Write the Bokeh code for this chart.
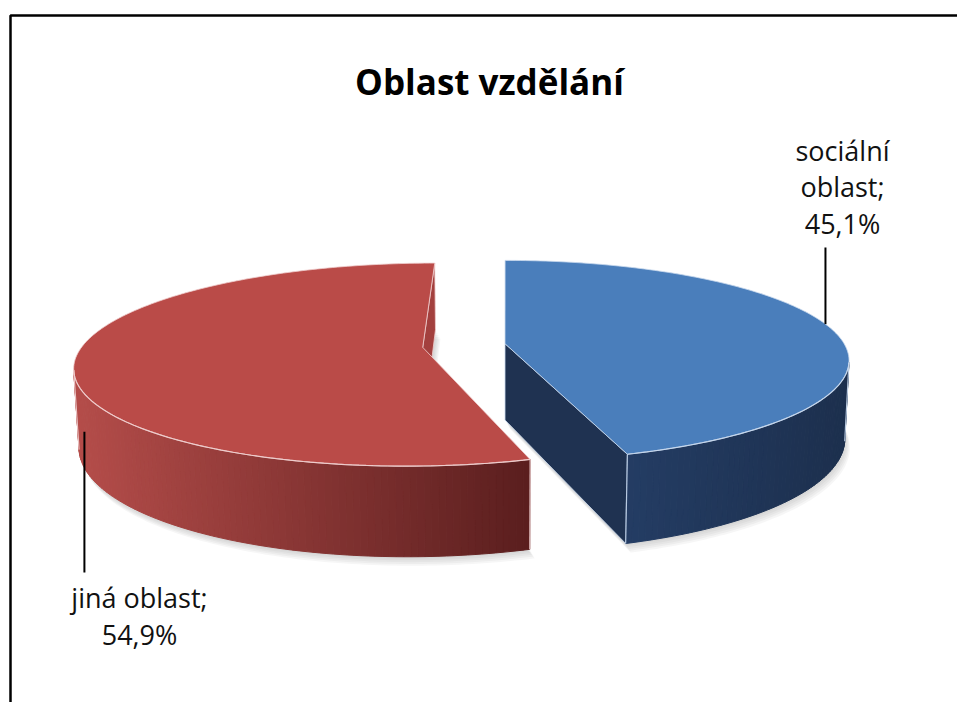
import numpy as np
from bokeh.plotting import figure
from bokeh.models import Range1d, ColumnDataSource
from bokeh.core.properties import value
from bokeh.embed import file_html
from bokeh.resources import INLINE

# ---------------- data ----------------
title_text = "Oblast vzdělání"
categories = ["sociální oblast", "jiná oblast"]
shares = [45.1, 54.9]

# ---------------- styles ----------------
top_colors = ["#4A7EBB", "#BA4B48"]
side_light = ["#284470", "#B54D4A"]
side_dark = ["#1C2F4D", "#5A1E1E"]
cut_colors = ["#1F3251", "#A3403E"]
edge_colors = ["#C9D9EE", "#F0CFCF"]
FONT = "Open Sans"

# ---------------- layout (page pixels) ----------------
W, H = 957, 702
CX, CY = 505.0, 345.0
F = 1922.0
K = 5.65
SIN_P = 0.288
COS_P = float(np.sqrt(1 - SIN_P ** 2))
T = 0.238
PIE_X = -0.122
EXPL = 0.122
CAM = np.array([0.0, K * SIN_P, -K * COS_P])

label_x = [842, 139]
label_baselines = [[150, 186, 223], [597, 634]]
label_wrap = [True, False]
leader_label_end = [247, 572]
leader_anchor = [(np.radians(78), 0.0), (np.radians(246), -0.5)]
TITLE_X, TITLE_Y = 489, 81
BORDER_X, BORDER_Y = 10, 15


def proj(x, y, z):
    x = np.asarray(x, float); y = np.asarray(y, float); z = np.asarray(z, float)
    depth = K - y * SIN_P + z * COS_P
    up = y * COS_P + z * SIN_P
    return CX + F * x / depth, CY - F * up / depth


def mix(c1, c2, t):
    a = np.array([int(c1[i:i + 2], 16) for i in (1, 3, 5)], float)
    b = np.array([int(c2[i:i + 2], 16) for i in (1, 3, 5)], float)
    c = a * (1 - t) + b * t
    return "#%02x%02x%02x" % tuple(int(round(v)) for v in c)


def visible(p, n):
    return float(np.dot(CAM - p, n)) > 0


p = figure(width=W, height=H, x_range=Range1d(0, W), y_range=Range1d(H, 0),
           output_backend="svg", toolbar_location=None,
           x_axis_location=None, y_axis_location=None,
           min_border=0, outline_line_color=None, background_fill_color="white")
p.xgrid.visible = False
p.ygrid.visible = False

fr = np.array(shares) / sum(shares)
bounds = np.concatenate([[0.0], np.cumsum(fr)]) * 2 * np.pi

shadow = dict(xs=[], ys=[])
patches = dict(xs=[], ys=[], fill=[], line=[], lw=[])
edges = dict(xs=[], ys=[], color=[])
centers = []

for i in range(len(shares)):
    a0, a1 = bounds[i], bounds[i + 1]
    am = 0.5 * (a0 + a1)
    ox = PIE_X + EXPL * np.sin(am)
    oz = EXPL * np.cos(am)
    centers.append((ox, oz))
    n = max(12, int(np.degrees(a1 - a0)))
    th = np.linspace(a0, a1, n)
    rx = ox + np.sin(th)
    rz = oz + np.cos(th)

    # soft shadow (bottom face, offset)
    bx, by = proj(np.r_[ox, rx], np.full(n + 1, -T), np.r_[oz, rz])
    for k in range(1, 6):
        shadow["xs"].append(list(bx + 1.0 * k))
        shadow["ys"].append(list(by + 1.8 * k))

    # cut faces
    for a, sign in ((a0, -1), (a1, 1)):
        nrm = np.array([sign * np.cos(a), 0.0, -sign * np.sin(a)])
        mid = np.array([ox + 0.5 * np.sin(a), -T / 2, oz + 0.5 * np.cos(a)])
        if visible(mid, nrm):
            qx, qy = proj([ox, ox + np.sin(a), ox + np.sin(a), ox],
                          [0, 0, -T, -T],
                          [oz, oz + np.cos(a), oz + np.cos(a), oz])
            patches["xs"].append(list(qx)); patches["ys"].append(list(qy))
            patches["fill"].append(cut_colors[i]); patches["line"].append(edge_colors[i])
            patches["lw"].append(0.8)

    # rim strips
    tx, ty = proj(rx, np.zeros(n), rz)
    xmin, xmax = tx.min(), tx.max()
    strips = []
    for j in range(n - 1):
        tm = 0.5 * (th[j] + th[j + 1])
        pm = np.array([ox + np.sin(tm), -T / 2, oz + np.cos(tm)])
        nm = np.array([np.sin(tm), 0.0, np.cos(tm)])
        if not visible(pm, nm):
            continue
        qx, qy = proj([rx[j], rx[j + 1], rx[j + 1], rx[j]], [0, 0, -T, -T],
                      [rz[j], rz[j + 1], rz[j + 1], rz[j]])
        t = (qx.mean() - xmin) / (xmax - xmin)
        col = mix(side_light[i], side_dark[i], min(max(t, 0), 1))
        patches["xs"].append(list(qx)); patches["ys"].append(list(qy))
        patches["fill"].append(col); patches["line"].append(col)
        patches["lw"].append(1.0)
        strips.append(j)
    if strips:
        js = list(range(strips[0], strips[-1] + 2))
        ex, ey = proj(rx[js], np.zeros(len(js)), rz[js])
        edges["xs"].append(list(ex)); edges["ys"].append(list(ey)); edges["color"].append(edge_colors[i])
        for jj in (js[0], js[-1]):
            vx, vy = proj([rx[jj], rx[jj]], [0, -T], [rz[jj], rz[jj]])
            edges["xs"].append(list(vx)); edges["ys"].append(list(vy)); edges["color"].append(edge_colors[i])

    # top face
    px_, py_ = proj(np.r_[ox, rx], np.zeros(n + 1), np.r_[oz, rz])
    patches["xs"].append(list(px_)); patches["ys"].append(list(py_))
    patches["fill"].append(top_colors[i]); patches["line"].append(edge_colors[i])
    patches["lw"].append(0.8)

p.patches("xs", "ys", source=ColumnDataSource(shadow), fill_color="#808080",
          fill_alpha=0.07, line_color=None)
p.patches("xs", "ys", source=ColumnDataSource(patches), fill_color="fill",
          line_color="line", line_width="lw")
p.multi_line("xs", "ys", source=ColumnDataSource(edges), line_color="color",
             line_width=1.2, line_alpha=0.9)

# leader lines and labels
lead = dict(xs=[], ys=[])
txt = dict(x=[], y=[], text=[])
for i, name in enumerate(categories):
    ox, oz = centers[i]
    ang, hf = leader_anchor[i]
    ax, ay = proj(ox + np.sin(ang), hf * T, oz + np.cos(ang))
    lead["xs"].append([float(ax), float(ax)])
    lead["ys"].append([float(ay), leader_label_end[i]])
    pct = ("%.1f" % shares[i]).replace(".", ",") + "%"
    first = name + ";"
    lines = first.split(" ") if label_wrap[i] else [first]
    lines = lines + [pct]
    for ln, yb in zip(lines, label_baselines[i]):
        txt["x"].append(label_x[i]); txt["y"].append(yb); txt["text"].append(ln)

p.multi_line("xs", "ys", source=ColumnDataSource(lead), line_color="black", line_width=2)
p.text("x", "y", text="text", source=ColumnDataSource(txt), text_font=value(FONT),
       text_font_size="27px", text_align="center", text_baseline="alphabetic",
       text_color="#111111")

p.text(x=[TITLE_X], y=[TITLE_Y], text=[title_text], text_font=value(FONT), text_font_size="35px",
       text_font_style="bold", text_align="center", text_baseline="alphabetic",
       text_color="black")

# chart-area border (top and left edges visible)
p.line(x=[BORDER_X, BORDER_X, W + 50], y=[H + 50, BORDER_Y, BORDER_Y],
       line_color="black", line_width=2.5)

open("out.html", "w").write(file_html(p, INLINE))
